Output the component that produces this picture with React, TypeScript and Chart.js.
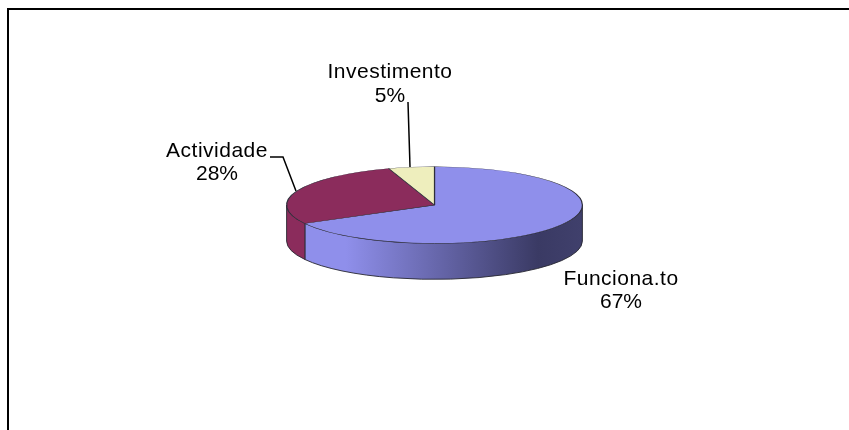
import React, { useEffect, useRef } from "react";
import { Chart, registerables } from "chart.js";

Chart.register(...registerables);

const categories = ["Funciona.to", "Actividade", "Investimento"];
const shares = [67, 28, 5];
const faceColors = ["#8f8feb", "#8b2c5c", "#eeeebd"];

const W = 849;
const H = 430;
const CX = 434.5;
const CY = 205;
const RX = 148.5;
const RY = 38.5;
const DEPTH = 36;
const K = RY / RX;

const labelSpots = [
  { x: 621, y: 279, py: 302 },
  { x: 217, y: 151, py: 174 },
  { x: 390, y: 72, py: 96 },
];
const leaders: number[][][] = [
  [],
  [[270, 157], [283, 157], [296, 191]],
  [[408, 102], [410, 167]],
];

const pie3d = {
  id: "pie3d",
  beforeDatasetsDraw(chart: any) {
    const ctx = chart.ctx;
    const arcs = chart.getDatasetMeta(0).data;
    const cyChart = (chart.chartArea.top + chart.chartArea.bottom) / 2;
    const cxChart = (chart.chartArea.left + chart.chartArea.right) / 2;

    // Side wall: only the front half of each slice is visible
    arcs.forEach((arc: any, i: number) => {
      const p = arc.getProps(["startAngle", "endAngle", "outerRadius"], true);
      const a1 = Math.max(p.startAngle, 0);
      const a2 = Math.min(p.endAngle, Math.PI);
      if (a2 <= a1) return;
      const rx = p.outerRadius;
      const ry = rx * K;
      ctx.save();
      ctx.beginPath();
      ctx.ellipse(CX, CY, rx, ry, 0, a1, a2, false);
      ctx.ellipse(CX, CY + DEPTH, rx, ry, 0, a2, a1, true);
      ctx.closePath();
      if (i === 0) {
        const g = ctx.createLinearGradient(CX - rx, 0, CX + rx, 0);
        g.addColorStop(0, "#8f8feb");
        g.addColorStop(0.2, "#8f8feb");
        g.addColorStop(0.85, "#3a3a64");
        g.addColorStop(1, "#40406c");
        ctx.fillStyle = g;
      } else {
        ctx.fillStyle = faceColors[i];
      }
      ctx.fill();
      ctx.lineWidth = 1;
      ctx.strokeStyle = "rgba(40,40,50,0.9)";
      ctx.stroke();
      ctx.restore();
    });

    ctx.save();
    ctx.translate(CX, CY);
    ctx.scale(1, K);
    ctx.translate(-cxChart, -cyChart);
  },
  afterDatasetsDraw(chart: any) {
    const ctx = chart.ctx;
    ctx.restore();

    // Frame: only top and left edges are in view
    ctx.save();
    ctx.strokeStyle = "#000";
    ctx.lineWidth = 2;
    ctx.beginPath();
    ctx.moveTo(8, H);
    ctx.lineTo(8, 9);
    ctx.lineTo(W, 9);
    ctx.stroke();

    // Leader lines
    ctx.lineWidth = 1.5;
    leaders.forEach((pts) => {
      if (!pts.length) return;
      ctx.beginPath();
      pts.forEach(([x, y], j) => (j ? ctx.lineTo(x, y) : ctx.moveTo(x, y)));
      ctx.stroke();
    });

    // Labels
    ctx.fillStyle = "#000";
    ctx.textAlign = "center";
    ctx.textBaseline = "middle";
    ctx.font = '21px "Liberation Sans", Arial, sans-serif';
    categories.forEach((c, i) => {
      const s = labelSpots[i];
      ctx.letterSpacing = "0.5px";
      ctx.fillText(c, s.x, s.y);
      ctx.letterSpacing = "0px";
      ctx.fillText(`${shares[i]}%`, s.x, s.py);
    });
    ctx.restore();
  },
};

export default function App() {
  const ref = useRef<HTMLCanvasElement>(null);
  useEffect(() => {
    document.body.style.margin = "0";
    const chart = new Chart(ref.current!, {
      type: "pie",
      data: {
        labels: categories,
        datasets: [
          {
            data: shares,
            backgroundColor: faceColors,
            borderColor: "#2e2e3a",
            borderWidth: 1.2,
            clip: false,
          } as any,
        ],
      },
      options: {
        responsive: false,
        animation: false,
        rotation: 0,
        layout: {
          padding: {
            left: CX - RX,
            right: W - CX - RX,
            top: (H - 2 * RX) / 2,
            bottom: (H - 2 * RX) / 2,
          },
        },
        plugins: { legend: { display: false }, tooltip: { enabled: false }, title: { display: false } },
      },
      plugins: [pie3d],
    });
    return () => chart.destroy();
  }, []);
  return (
    <canvas
      ref={ref}
      width={W}
      height={H}
      style={{ display: "block", width: W, height: H }}
    />
  );
}
